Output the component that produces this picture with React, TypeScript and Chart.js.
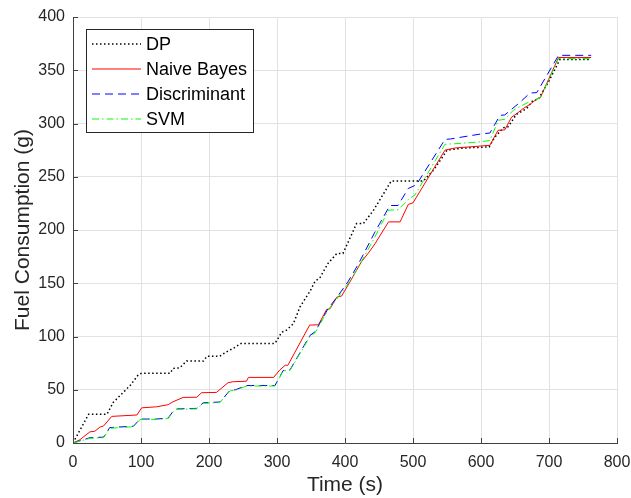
import React, { useEffect, useRef } from "react";
import { Chart, registerables } from "chart.js";

Chart.register(...registerables);

const FONT = "Arial, 'Liberation Sans', Helvetica, sans-serif";

const xTickValues = [0, 100, 200, 300, 400, 500, 600, 700, 800];
const yTickValues = [0, 50, 100, 150, 200, 250, 300, 350, 400];
const xLabel = "Time (s)";
const yLabel = "Fuel Consumption (g)";
const seriesNames = ["DP", "Naive Bayes", "Discriminant", "SVM"];

const dpT = [0, 23, 50, 59, 84, 96, 101, 143, 147, 157, 167, 192, 197, 216, 224, 236, 247, 297, 307, 314, 324, 334, 349, 356, 363, 375, 388, 397, 417, 427, 442, 468, 515, 530, 545, 550, 575, 612, 620, 633, 640, 652, 667, 677, 684, 700, 716, 762];
const dpV = [0, 27, 27, 38, 54, 64, 65.5, 65.5, 70, 70.5, 77, 77, 81.5, 81.5, 85, 89, 93.5, 93.5, 104, 106, 112, 128, 143, 152, 155, 168.6, 178, 178, 206, 206, 218.6, 246, 246, 256, 270, 275, 277, 278, 287, 296, 297, 308.6, 314, 322, 322.5, 340, 360, 360];

const nbT = [0, 10, 25, 32, 40, 45, 57, 94, 101, 123, 140, 147, 162, 182, 189, 211, 228, 235, 255, 258, 295, 304, 312, 316, 348, 361, 373, 378, 388, 395, 407, 424, 434, 444, 464, 481, 493, 500, 547, 562, 613, 625, 635, 645, 652, 662, 672, 682, 687, 714, 762];
const nbV = [0, 3, 10.5, 11, 15, 16, 25, 26.3, 33, 34, 36, 38.7, 42.8, 43, 47.2, 47.5, 56.6, 57.5, 58, 61.6, 61.6, 68.5, 73, 73, 110.7, 111, 125.4, 126, 137, 138, 151, 170, 178, 187, 207.6, 207.6, 224, 225.5, 275, 277, 279.5, 293.6, 294, 306, 309, 314, 318, 323, 324, 362, 362];

const dcT = [0, 25, 45, 54, 89, 98.5, 123, 140, 147.5, 152.5, 182, 191.6, 216, 231, 239, 255, 297, 304, 309, 319, 348.5, 356, 375, 390, 405, 419.6, 444, 466, 478, 493, 505, 547, 555, 603, 613, 628, 635, 657.5, 672, 682, 714, 762];
const dcV = [0, 5, 5.5, 14.5, 15.8, 22.5, 22.5, 23.5, 30, 32, 32.5, 37.8, 38.5, 49.5, 50, 54, 54, 62, 68, 68.5, 101, 104.5, 126, 138.5, 152, 168, 198, 223, 223, 239, 242.5, 285, 285.5, 290.5, 291, 307.7, 308, 320, 328.6, 329, 364, 364];

const svT = [0, 25, 45, 54, 89, 98.5, 123, 140, 147.5, 152.5, 182, 191.6, 216, 231, 239, 255, 297, 304, 309, 319, 348.5, 356, 375, 390, 405, 419.6, 444, 464, 478, 493, 503, 547, 562, 596, 613, 625.5, 635, 647.5, 657.5, 670, 687, 714, 762];
const svV = [0, 4.4, 5, 13.8, 15.3, 22, 22, 23, 29.4, 31.6, 32, 37.2, 38, 49, 49.5, 53.5, 53.5, 61.6, 67.8, 68, 100, 103.5, 124.8, 137, 150, 165, 193.5, 218.6, 219, 228.6, 233, 280.5, 281, 282.6, 284, 303, 304, 312.4, 316, 320, 324, 361, 361];

function pts(t: number[], v: number[]) {
  return t.map((x, i) => ({ x, y: v[i] }));
}

const inwardTicks = {
  id: "inwardTicks",
  afterDatasetsDraw(chart: any) {
    const { ctx, chartArea, scales } = chart;
    ctx.save();
    ctx.strokeStyle = "#404040";
    ctx.lineWidth = 1;
    ctx.setLineDash([]);
    ctx.beginPath();
    xTickValues.forEach((v) => {
      const px = Math.round(scales.x.getPixelForValue(v)) + 0.5;
      ctx.moveTo(px, chartArea.bottom);
      ctx.lineTo(px, chartArea.bottom - 5);
    });
    yTickValues.forEach((v) => {
      const py = Math.round(scales.y.getPixelForValue(v)) + 0.5;
      ctx.moveTo(chartArea.left, py);
      ctx.lineTo(chartArea.left + 5, py);
    });
    ctx.stroke();
    ctx.restore();
  },
};

const boxLegend = {
  id: "boxLegend",
  afterDraw(chart: any) {
    const { ctx, chartArea } = chart;
    const x0 = Math.round(chartArea.left) + 13;
    const y0 = Math.round(chartArea.top) + 12;
    const w = 167;
    const h = 103;
    ctx.save();
    ctx.fillStyle = "#ffffff";
    ctx.fillRect(x0, y0, w, h);
    ctx.strokeStyle = "#262626";
    ctx.lineWidth = 1;
    ctx.setLineDash([]);
    ctx.strokeRect(x0 + 0.5, y0 + 0.5, w, h);
    chart.data.datasets.forEach((ds: any, i: number) => {
      const y = y0 + 15 + i * 25;
      ctx.beginPath();
      ctx.setLineDash(ds.borderDash || []);
      ctx.strokeStyle = ds.borderColor;
      ctx.lineWidth = ds.borderWidth;
      ctx.moveTo(x0 + 6, y);
      ctx.lineTo(x0 + 55, y);
      ctx.stroke();
      ctx.setLineDash([]);
      ctx.fillStyle = "#000000";
      ctx.font = `18px ${FONT}`;
      ctx.textBaseline = "middle";
      ctx.textAlign = "left";
      ctx.fillText(ds.label, x0 + 60, y + 1.5);
    });
    ctx.restore();
  },
};

export default function App() {
  const ref = useRef<HTMLCanvasElement | null>(null);

  useEffect(() => {
    if (!ref.current) return;
    const chart = new Chart(ref.current, {
      type: "line",
      data: {
        datasets: [
          {
            label: seriesNames[0],
            data: pts(dpT, dpV),
            borderColor: "#000000",
            borderWidth: 1.5,
            borderDash: [1.5, 2.5],
            order: 4,
          },
          {
            label: seriesNames[1],
            data: pts(nbT, nbV),
            borderColor: "#ff0000",
            borderWidth: 1,
            borderDash: [],
            order: 3,
          },
          {
            label: seriesNames[2],
            data: pts(dcT, dcV),
            borderColor: "#0000ff",
            borderWidth: 1,
            borderDash: [8, 5],
            order: 2,
          },
          {
            label: seriesNames[3],
            data: pts(svT, svV),
            borderColor: "#00ff00",
            borderWidth: 1,
            borderDash: [7, 3, 1.5, 3],
            order: 1,
          },
        ] as any,
      },
      options: {
        animation: false,
        responsive: true,
        maintainAspectRatio: false,
        layout: { padding: { top: 17, right: 14, left: 0, bottom: 0 } },
        elements: {
          point: { radius: 0 },
          line: { tension: 0, fill: false },
        },
        plugins: {
          legend: { display: false },
          tooltip: { enabled: false },
        },
        scales: {
          x: {
            type: "linear",
            min: 0,
            max: 800,
            afterBuildTicks: (s: any) => {
              s.ticks = xTickValues.map((v) => ({ value: v }));
            },
            afterFit: (s: any) => {
              s.height = 55;
              s.paddingLeft = 0;
              s.paddingRight = 0;
            },
            ticks: {
              color: "#262626",
              font: { family: FONT, size: 16 },
              padding: 10,
              maxRotation: 0,
            },
            grid: { color: "#e2e2e2", lineWidth: 1, drawTicks: false },
            border: { display: true, color: "#404040", width: 1 },
            title: {
              display: true,
              text: xLabel,
              color: "#262626",
              font: { family: FONT, size: 21 },
              padding: { top: -3, bottom: 0 },
            },
          },
          y: {
            type: "linear",
            min: 0,
            max: 400,
            afterBuildTicks: (s: any) => {
              s.ticks = yTickValues.map((v) => ({ value: v }));
            },
            afterFit: (s: any) => {
              s.width = 73;
              s.paddingTop = 0;
              s.paddingBottom = 0;
            },
            ticks: {
              color: "#262626",
              font: { family: FONT, size: 16 },
              padding: 8,
            },
            grid: { color: "#e2e2e2", lineWidth: 1, drawTicks: false },
            border: { display: true, color: "#404040", width: 1 },
            title: {
              display: true,
              text: yLabel,
              color: "#262626",
              font: { family: FONT, size: 21 },
              padding: { top: 11, bottom: 0 },
            },
          },
        },
      } as any,
      plugins: [inwardTicks, boxLegend],
    });
    return () => chart.destroy();
  }, []);

  return (
    <div style={{ position: "fixed", left: 0, top: 0, width: 631, height: 498, background: "#ffffff" }}>
      <canvas ref={ref} />
    </div>
  );
}
